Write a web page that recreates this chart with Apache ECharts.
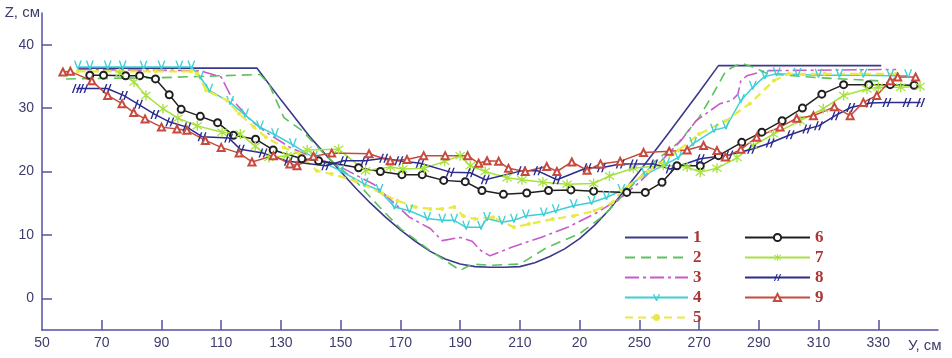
<!DOCTYPE html>
<html>
<head>
<meta charset="utf-8">
<script src="https://cdn.jsdelivr.net/npm/echarts@6/dist/echarts.min.js"></script>
<style>
  html, body { margin: 0; padding: 0; background: #fff; }
  #chart { width: 952px; height: 358px; }
</style>
</head>
<body>
<div id="chart"></div>
<script>
// axis ticks (the "20" under 230 is as printed in the source figure)
const xTickValues = [50, 70, 90, 110, 130, 150, 170, 190, 210, 230, 250, 270, 290, 310, 330];
const xTickLabels = ['50', '70', '90', '110', '130', '150', '170', '190', '210', '20', '250', '270', '290', '310', '330'];
const yTickValues = [0, 10, 20, 30, 40];

// profiles: [У, Z] in cm
const profile1 = [[62,36.3],[122,36.3],[130,31.3],[140,25.3],[150,20.0],[155,17.4],[160,15.0],[165,12.8],[170,10.8],[175,9.0],[180,7.4],[185,6.2],[190,5.4],[195,5.0],[200,4.9],[205,4.9],[210,5.0],[215,5.6],[220,6.6],[225,7.8],[230,9.4],[235,11.5],[240,14.0],[245,17.0],[250,20.0],[260,26.2],[270,32.5],[276.5,36.7],[331,36.7]];
const profile2 = [[58,34.6],[90,34.8],[123,35.3],[126,33.8],[131,28.5],[133,27.8],[137,26.5],[145,22.5],[155,18.5],[163,14.4],[170,11],[180,7.5],[190,4.4],[194,5.4],[200,5.2],[210,5.4],[219,8],[230,10.2],[238,13],[244,16],[255,21.5],[263,24.5],[270,28.5],[275,32.5],[279,35.9],[284,37.1],[289,36.3],[293,35.4],[310,34.8],[330,34.3]];
const profile3 = [[62,36.1],[103,35.9],[110,34.9],[114,31.2],[120,28],[126,25.9],[133,23.8],[138,22.8],[150,20.7],[161,18],[167,15.4],[173,12.8],[180,11],[184,9.1],[190,9.6],[194,9],[197,7.5],[200,6.7],[207,8],[217,9.6],[226,11.2],[235,13.3],[244,15.9],[250,18.3],[257,21.5],[264,24.9],[269,28],[277,30.7],[281,31.2],[283,32.2],[284,34.3],[286,35.1],[292,35.9],[336,36.1]];
const profile4 = [[62,36.5],[66,36.5],[72,36.5],[77,36.5],[84,36.5],[90,36.5],[96,36.5],[100,36.5],[103,34.9],[106,32.8],[113,30.9],[118,28.9],[123,27],[128,25.8],[134,24.2],[141,22.2],[150,20.1],[158,18],[163,17],[168,14.4],[173,13.8],[179,12.6],[184,12.3],[188,12.3],[192,11.2],[197,11.2],[199,12.6],[204,12],[208,12.3],[212,13],[218,13.3],[222,13.8],[228,14.6],[234,15.1],[239,15.9],[244,17],[252,19.5],[259,21.2],[263,22.2],[268,24.4],[275,26.5],[279,27],[284,31.2],[288,33.3],[292,35],[296,35.4],[303,35.3],[310,35.2],[317,35.2],[325,35.2],[334,35.1],[340,35.1]];
const profile5 = [[62,35.8],[75,35.8],[88,35.8],[100,35.8],[102,35.4],[105,32.8],[112,31.2],[116,29.1],[121,27],[125,25.4],[131,23.8],[136,22.8],[142,20.1],[147,19.6],[155,18.5],[164,16.5],[169,15.4],[175,14.4],[180,14.1],[184,14.1],[188,14.4],[191,13],[195,12.5],[201,12.8],[208,11.2],[213,11.7],[221,12.5],[228,13],[235,13.8],[241,15.1],[244,17],[253,20],[263,23.3],[270,25.9],[279,28],[287,30.7],[295,34.3],[300,35.4],[312,35.4],[324,35.4],[336,35.4]];
const profile6 = [[66,35.2],[70.6,35.2],[78,35.1],[82.7,35.1],[88,34.6],[92.6,32.1],[96.6,29.8],[103,28.7],[108.8,27.7],[114.1,25.7],[121.5,25.1],[127.4,23.4],[137,22],[142.6,21.7],[156,20.6],[163.3,20],[170.5,19.5],[177.3,19.5],[184.5,18.6],[191.7,18.4],[197.3,17],[204.5,16.4],[212.3,16.6],[219.6,17],[227.1,17.1],[234.7,16.9],[245.8,16.7],[252,16.7],[257.6,18.3],[262.6,20.9],[270.4,20.9],[276.5,22.5],[284.3,24.6],[291,26.2],[297.8,28],[304.6,30],[311.1,32.2],[318.4,33.7],[326.8,33.7],[334,33.7],[342,33.6]];
const profile7 = [[76,35.5],[80.8,34.1],[84.8,32],[90.5,29.9],[95.5,28.4],[102,27.2],[110.3,26.2],[116.4,25.9],[121.4,24],[126,22.2],[132,22.5],[138.8,23.4],[149.3,23.5],[158.3,20.1],[166.6,20.7],[170.8,20.4],[178,20.5],[184.8,21.6],[190,22.5],[193.4,20.9],[198.4,20],[205.7,19],[210.7,18.7],[217.7,18.3],[225.8,18],[234.7,18.1],[240,19.3],[248,20.5],[258,21],[266,20.7],[270.4,19.9],[276,20.5],[282.7,22.2],[288.2,24.1],[294.9,25.9],[303.8,28],[311.6,29.9],[318.4,32],[326.2,33],[330,33.3],[337.5,33.3],[344,33.4]];
const profile8 = [[61.5,33.1],[64,33.1],[71.8,33.1],[77.3,32],[82.3,30.6],[87.8,29],[92.8,27.8],[98.5,27],[103.6,25.5],[112.5,25.3],[116.4,23.5],[124,22.9],[132.5,21.6],[145,20.9],[151,21.7],[158.2,21.7],[164.4,22.1],[169.5,21.7],[176.6,21.3],[186.7,19.9],[193.4,19.8],[198.4,18.7],[210.5,20.1],[216,20.1],[222.4,18.7],[232.5,20.6],[237.3,20.6],[243.6,21.2],[248,21.2],[254.8,21.2],[260.3,20.4],[270.4,22],[280,22.6],[287.6,23.5],[293.8,24.5],[300.5,25.8],[306.1,26.7],[310,27.2],[315.6,28.8],[320.8,30.1],[327.3,30.8],[332.9,30.9],[339.6,30.9],[344.2,30.9]];
const profile9 = [[57,35.7],[59.5,35.8],[66.7,34.3],[72,32],[76.8,30.7],[80.7,29.3],[84.5,28.3],[90,27],[95.2,26.7],[98.5,26.5],[104.7,24.9],[110,23.8],[116,22.9],[120.3,21.5],[127.5,22.5],[133,21.2],[135.4,20.9],[140.9,22.4],[147,22.9],[159.5,22.8],[166.6,21.7],[172.2,21.9],[177.8,22.5],[185,22.5],[192.5,22.5],[196.2,21.3],[199,21.7],[202.9,21.6],[206.2,20.5],[211.8,20],[219,20.8],[222.4,20],[227.4,21.5],[232.5,20.2],[237,21.2],[243.6,21.6],[251.4,23],[260,23.2],[266,23.4],[271.5,24.1],[276,23.3],[278.8,22.3],[284,23.5],[289.3,25.4],[297.1,27],[302.7,28.4],[308.3,28.8],[315.3,30.2],[320.6,28.8],[325,30.9],[329.5,32],[334,34.3],[336.5,34.9],[342.5,34.9]];

// marker shapes
const vMark = 'path://M0,0 L1.8,0 L5,7.6 L8.2,0 L10,0 L5.8,10 L4.2,10 Z';
const slashMark = 'path://M1,10 L4.2,0 L5.6,0 L2.4,10 Z M5,10 L8.2,0 L9.6,0 L6.4,10 Z';
const starMark = 'path://M4.4,0 H5.6 V10 H4.4 Z M0.6,2 L1.2,1 L9.4,8 L8.8,9 Z M0.6,8 L8.8,1 L9.4,2 L1.2,9 Z';

const axisColor = '#5252a4';
const labelColor = '#3c3c6e';

function line(name, data, color, opts) {
  return Object.assign({
    name: name,
    type: 'line',
    data: data,
    symbol: 'none',
    color: color,
    lineStyle: { color: color, width: 1.5 },
    itemStyle: { color: color },
  }, opts || {});
}

const series = [
  line('1', profile1, '#3a3a8c', { lineStyle: { color: '#3a3a8c', width: 1.6 } }),
  line('2', profile2, '#5cc35c', { lineStyle: { color: '#5cc35c', width: 1.6, type: [10, 6] } }),
  line('3', profile3, '#c95ac9', { lineStyle: { color: '#c95ac9', width: 1.6, type: [14, 4, 3, 4] } }),
  line('4', profile4, '#3dcfd6', { symbol: vMark, symbolSize: [8, 9], symbolOffset: [0, -2] }),
  line('5', profile5, '#e9e943', { symbol: 'circle', symbolSize: 4, lineStyle: { color: '#e9e943', width: 2.2, type: [8, 5] } }),
  line('6', profile6, '#202020', { symbol: 'emptyCircle', symbolSize: 7, itemStyle: { color: '#202020', borderWidth: 1.2 } }),
  line('7', profile7, '#a6e23e', { symbol: starMark, symbolSize: 10 }),
  line('8', profile8, '#2b2b8f', { symbol: slashMark, symbolSize: [9, 9] }),
  line('9', profile9, '#c84a3e', { symbol: 'emptyTriangle', symbolSize: 7, itemStyle: { color: '#c84a3e', borderWidth: 1.2 } }),
];

const legendText = {
  color: '#ad3535',
  fontFamily: 'Liberation Serif',
  fontWeight: 'bold',
  fontSize: 17,
};

// plain lines get no marker in the legend
const noMark = { opacity: 0 };

const option = {
  animation: false,
  backgroundColor: '#fff',
  grid: { left: 42, right: 14, top: 13, bottom: 28, containLabel: false, outerBoundsMode: 'none' },
  legend: [
    {
      data: [{ name: '1', itemStyle: noMark }, { name: '2', itemStyle: noMark }, { name: '3', itemStyle: noMark }, '4', '5'],
      orient: 'vertical', left: 624, top: 229, padding: 0,
      itemWidth: 63, itemHeight: 9, itemGap: 3,
      textStyle: legendText, selectedMode: false,
    },
    {
      data: ['6', '7', '8', '9'],
      orient: 'vertical', left: 744, top: 229, padding: 0,
      itemWidth: 65, itemHeight: 9, itemGap: 3,
      textStyle: legendText, selectedMode: false,
    },
  ],
  xAxis: {
    type: 'value',
    min: 50, max: 350,
    name: 'У, см',
    nameLocation: 'end',
    nameGap: -30,
    nameTextStyle: { color: labelColor, fontSize: 15, fontFamily: 'Liberation Sans', verticalAlign: 'top', align: 'left', padding: [8, 0, 0, 0] },
    axisLine: { onZero: false, lineStyle: { color: axisColor, width: 1.5 } },
    axisTick: { inside: true, length: 10, customValues: xTickValues.slice(1), lineStyle: { color: axisColor, width: 1.5 } },
    axisLabel: {
      customValues: xTickValues,
      margin: 6,
      color: labelColor, fontSize: 14, fontFamily: 'Liberation Sans',
      formatter: v => xTickLabels[xTickValues.indexOf(v)] || '',
    },
    splitLine: { show: false },
  },
  yAxis: {
    type: 'value',
    min: -5, max: 45,
    name: 'Z, см',
    nameLocation: 'end',
    nameGap: 0,
    nameTextStyle: { color: labelColor, fontSize: 15, fontFamily: 'Liberation Sans', align: 'right', verticalAlign: 'middle', padding: [0, 2, 0, 0] },
    axisLine: { onZero: false, lineStyle: { color: axisColor, width: 1.5 } },
    axisTick: { inside: true, length: 10, customValues: yTickValues, lineStyle: { color: axisColor, width: 1.5 } },
    axisLabel: {
      customValues: yTickValues,
      margin: 8,
      color: labelColor, fontSize: 14, fontFamily: 'Liberation Sans',
    },
    splitLine: { show: false },
  },
  series: series,
};

const chart = echarts.init(document.getElementById('chart'));
chart.setOption(option);
</script>
</body>
</html>
